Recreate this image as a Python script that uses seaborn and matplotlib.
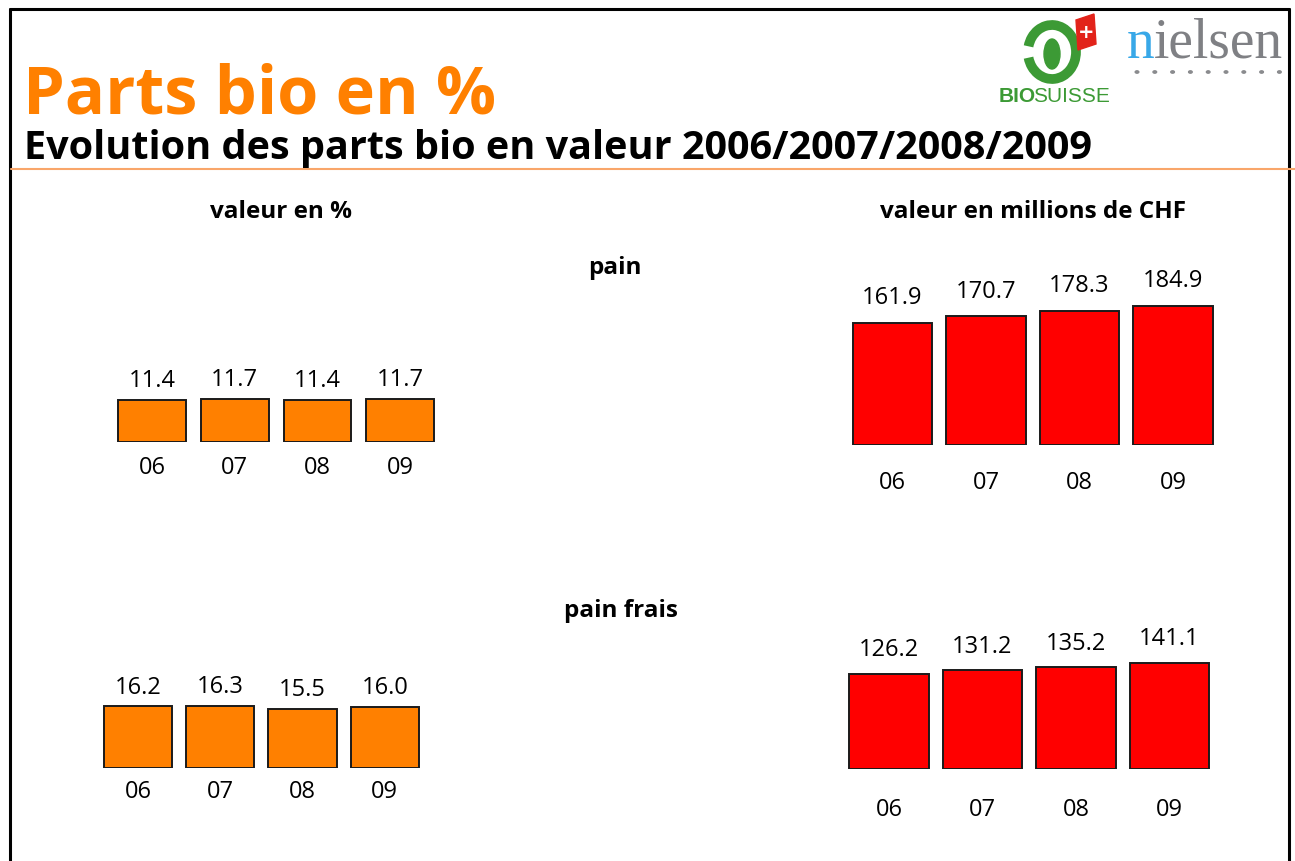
import matplotlib
matplotlib.use('Agg')
import matplotlib.pyplot as plt
import matplotlib.patches as mpatches
from matplotlib.lines import Line2D
import seaborn as sns

sns.set_style('white')
plt.rcParams['font.family'] = ['Open Sans', 'DejaVu Sans']
plt.rcParams['text.color'] = 'black'
plt.rcParams['xtick.color'] = 'black'

years = ['06', '07', '08', '09']
pain_pct = [11.4, 11.7, 11.4, 11.7]
pain_chf = [161.9, 170.7, 178.3, 184.9]
frais_pct = [16.2, 16.3, 15.5, 16.0]
frais_chf = [126.2, 131.2, 135.2, 141.1]

ORANGE = '#FF8000'
RED = '#FF0000'
W, H = 1295, 861

fig = plt.figure(figsize=(W / 100, H / 100), dpi=100)


def fx(x):
    return x / W


def fy(y):
    return 1 - y / H


def panel(vals, left, bottom, spacing, scale, ymax, width, color, lpad, tpad):
    height = ymax * scale
    ax = fig.add_axes([fx(left), fy(bottom), 4 * spacing / W, height / H])
    sns.barplot(x=years, y=vals, color=color, width=width, saturation=1,
                edgecolor='#1a1a1a', linewidth=1.4, ax=ax)
    ax.set_xlim(-0.5, 3.5)
    ax.set_ylim(0, ymax)
    ax.bar_label(ax.containers[0], fmt='%.1f', padding=lpad, fontsize=17,
                 color='black')
    ax.tick_params(axis='x', length=0, pad=tpad, labelsize=17, labelcolor='black')
    ax.set_yticks([])
    ax.set_xlabel('')
    ax.set_ylabel('')
    sns.despine(ax=ax, left=True, bottom=True)
    ax.patch.set_visible(False)
    return ax


panel(pain_pct, 110.7, 442, 82.7, 3.7, 25, 0.82, ORANGE, 5, 10)
panel(frais_pct, 96.8, 768, 82.3, 3.83, 25, 0.83, ORANGE, 4.5, 9)
panel(pain_chf, 845.75, 445, 93.5, 0.754, 220, 0.845, RED, 9, 19)
panel(frais_chf, 842.25, 769, 93.5, 0.752, 220, 0.845, RED, 8.5, 21)

# titles
fig.text(fx(23), fy(113), 'Parts bio en %', color=ORANGE, fontsize=48,
         fontweight='bold', va='baseline', ha='left')
fig.text(fx(24), fy(159), 'Evolution des parts bio en valeur 2006/2007/2008/2009',
         color='black', fontsize=28.5, fontweight='bold', va='baseline', ha='left')

fig.text(fx(281), fy(212), 'valeur en %', fontsize=17.5, fontweight='bold',
         ha='center', va='center')
fig.text(fx(1033), fy(212), 'valeur en millions de CHF', fontsize=17.5,
         fontweight='bold', ha='center', va='center')
fig.text(fx(615), fy(268), 'pain', fontsize=17.5, fontweight='bold',
         ha='center', va='center')
fig.text(fx(621), fy(611), 'pain frais', fontsize=17.5, fontweight='bold',
         ha='center', va='center')

# frame and separator
fig.add_artist(Line2D([fx(10), fx(10)], [fy(9), 0], color='black', lw=2.2))
fig.add_artist(Line2D([fx(10), fx(1289)], [fy(9), fy(9)], color='black', lw=2.2))
fig.add_artist(Line2D([fx(1289), fx(1289)], [fy(9), 0], color='black', lw=2.2))
fig.add_artist(Line2D([fx(11), 1], [fy(169), fy(169)], color='#F9A66A', lw=1.5))

# Bio Suisse logo (simplified)
fig.add_artist(mpatches.Arc((fx(1052), fy(52)), 48 / W, 54 / H, theta1=200, theta2=520,
                            color='#3C9A35', lw=7))
fig.add_artist(mpatches.Ellipse((fx(1052), fy(54)), 16 / W, 30 / H, color='#3C9A35'))
fig.add_artist(mpatches.Polygon([(fx(1076), fy(20)), (fx(1094), fy(14)),
                                 (fx(1096), fy(44)), (fx(1078), fy(50))],
                                closed=True, color='#E2231A'))
fig.text(fx(1086), fy(32), '+', color='white', fontsize=14, fontweight='bold',
         ha='center', va='center', family='DejaVu Sans')
fig.text(fx(999), fy(97), 'BIO', color='#3C9A35', fontsize=15, fontweight='bold',
         ha='left', va='center', family='Liberation Sans')
fig.text(fx(1033), fy(97), 'SUISSE', color='#3C9A35', fontsize=15,
         ha='left', va='center', family='Liberation Sans')

# Nielsen logo (simplified)
fig.text(fx(1127), fy(58), 'n', color='#38A8E8', fontsize=40,
         family='Liberation Serif', ha='left', va='baseline')
fig.text(fx(1154), fy(58), 'ielsen', color='#7F8084', fontsize=40,
         family='Liberation Serif', ha='left', va='baseline')
for i in range(9):
    fig.add_artist(mpatches.Circle((fx(1137 + i * 17.8), fy(72)), 1.8 / W,
                                   color='#8A8B8E'))

fig.savefig('out.png', dpi=100)
